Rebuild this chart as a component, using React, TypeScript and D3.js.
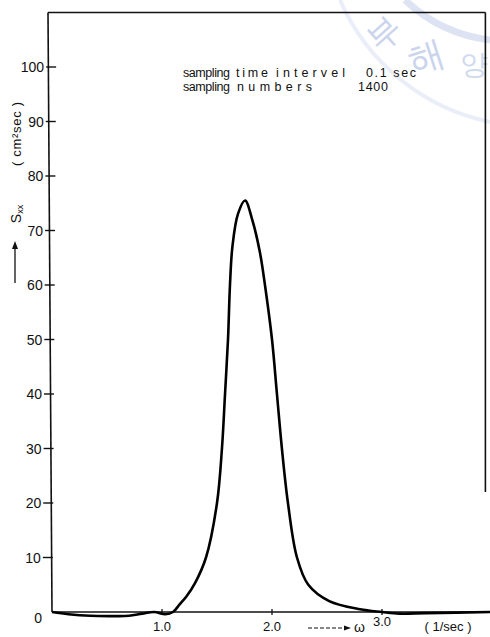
import React from 'react';
import * as d3 from 'd3';

// spectrum: omega (1/sec) vs Sxx (cm^2 sec)
const omega = [0, 0.15, 0.35, 0.55, 0.7, 0.82, 0.93, 1.03, 1.1, 1.16, 1.22, 1.3, 1.4, 1.5, 1.545, 1.573, 1.6, 1.618, 1.64, 1.69, 1.755, 1.82, 1.89, 1.936, 2.0, 2.045, 2.09, 2.145, 2.227, 2.33, 2.52, 2.8, 3.0, 3.16, 3.4, 4.0];
const sxx = [0, -0.4, -0.7, -0.75, -0.7, -0.3, 0, -0.4, 0, 1.4, 2.8, 5.3, 10, 20, 30, 40, 50, 60, 67, 73, 75.5, 72, 66, 60, 50, 40, 30, 20, 10, 5, 2, 0.5, 0, -0.3, -0.2, 0];

const yTicks = [0, 10, 20, 30, 40, 50, 60, 70, 80, 90, 100];
const xTicks = [1.0, 2.0, 3.0];
// note words: text, left x, width in px, row
const noteWords: [string, number, number, number][] = [
  ['sampling', 183, 47, 0],
  ['time', 236, 32, 0],
  ['intervel', 276, 69, 0],
  ['0.1 sec', 366, 50, 0],
  ['sampling', 183, 47, 1],
  ['numbers', 237, 75, 1],
  ['1400', 358, 30, 1],
];

const font = '"Liberation Sans", Arial, sans-serif';

const App = () => {
  const x = d3.scaleLinear().domain([0, 4]).range([52, 492]);
  const y = d3.scaleLinear().domain([0, 110]).range([612, 12.5]);

  const line = d3.line<number>()
    .x((d, i) => x(omega[i]))
    .y(d => y(d))
    .curve(d3.curveCatmullRom.alpha(0.5));

  const frameRight = x(3.94);

  return (
    <svg width={490} height={637} style={{ position: 'absolute', left: 0, top: 0, background: '#fff' }}
      fontFamily={font}>
      {/* faint seal watermark, top right */}
      <g opacity={0.45} fill="none" stroke="#b4c3e6" strokeWidth={7}>
        <path d="M 405 0 A 150 150 0 0 0 490 40" />
        <path d="M 340 0 A 210 210 0 0 0 490 122" strokeWidth={4} opacity={0.6} />
      </g>
      <text x={392} y={42} fontSize={34} fill="#b4c3e6" opacity={0.7} textAnchor="middle" transform="rotate(-42 392 42)">부</text>
      <text x={430} y={68} fontSize={36} fill="#b4c3e6" opacity={0.7} textAnchor="middle" transform="rotate(-18 430 68)">해</text>
      <text x={474} y={74} fontSize={28} fill="#b4c3e6" opacity={0.6} textAnchor="middle">양</text>

      {/* frame */}
      <g stroke="#111" strokeWidth={1.6} fill="none">
        <line x1={48} y1={y(110)} x2={frameRight} y2={y(110)} />
        <line x1={frameRight} y1={y(110)} x2={frameRight} y2={492} />
        <line x1={48} y1={y(110)} x2={x(0)} y2={y(0)} />
        <line x1={x(0)} y1={y(0)} x2={490} y2={y(0)} strokeWidth={1.3} />
      </g>

      {/* y ticks */}
      {yTicks.map(t => {
        const ax = 48 + (x(0) - 48) * (t / 110) + 0.5;
        return (
          <g key={t}>
            {t > 0 && <line x1={ax - 6} x2={ax + 4} y1={y(t)} y2={y(t)} stroke="#111" strokeWidth={1.4} />}
            <text x={t === 0 ? 42 : ax - 8} y={t === 0 ? y(t) + 11 : y(t) + 5} textAnchor="end" fontSize={14} fill="#111">
              {t}
            </text>
          </g>
        );
      })}

      {/* x ticks */}
      {xTicks.map(t => (
        <g key={t}>
          <line x1={x(t)} x2={x(t)} y1={y(0) - 3} y2={y(0) + 3} stroke="#111" strokeWidth={1.3} />
          <text x={x(t)} y={t === 3 ? y(0) + 14 : y(0) + 19} textAnchor="middle" fontSize={13} fill="#111">
            {t.toFixed(1)}
          </text>
        </g>
      ))}
      <text x={448} y={y(0) + 19} textAnchor="middle" fontSize={13} fill="#111">( 1/sec )</text>

      {/* omega axis arrow */}
      <g stroke="#111" strokeWidth={1.1}>
        <line x1={308} x2={345} y1={y(0) + 16} y2={y(0) + 16} strokeDasharray="4 2" />
      </g>
      <path d={`M 351 ${y(0) + 16} l -7 -2.5 l 0 5 z`} fill="#111" />
      <text x={354} y={y(0) + 20} fontSize={14} fill="#111">ω</text>

      {/* y axis title, rotated */}
      <g transform="translate(21, 134) rotate(-90)">
        <text textAnchor="middle" fontSize={13} fill="#111" textLength={64} lengthAdjust="spacing">( cm²sec )</text>
      </g>
      <g transform="translate(21, 214) rotate(-90)">
        <text textAnchor="middle" fontSize={14} fill="#111">S<tspan fontSize={9} dy={2}>xx</tspan></text>
      </g>
      <g stroke="#111" strokeWidth={1.3}>
        <line x1={15} x2={15} y1={283} y2={248} />
      </g>
      <path d="M 15 241 l -3 8 l 6 0 z" fill="#111" />

      {/* notes */}
      {noteWords.map(([w, nx, nw, row], i) => (
        <text key={i} x={nx} y={77 + row * 14} fontSize={12.5} fill="#111"
          textLength={nw} lengthAdjust="spacing">{w}</text>
      ))}

      {/* spectrum */}
      <path d={line(sxx) || ''} fill="none" stroke="#000" strokeWidth={2.6} strokeLinejoin="round" />
    </svg>
  );
};

export default App;
